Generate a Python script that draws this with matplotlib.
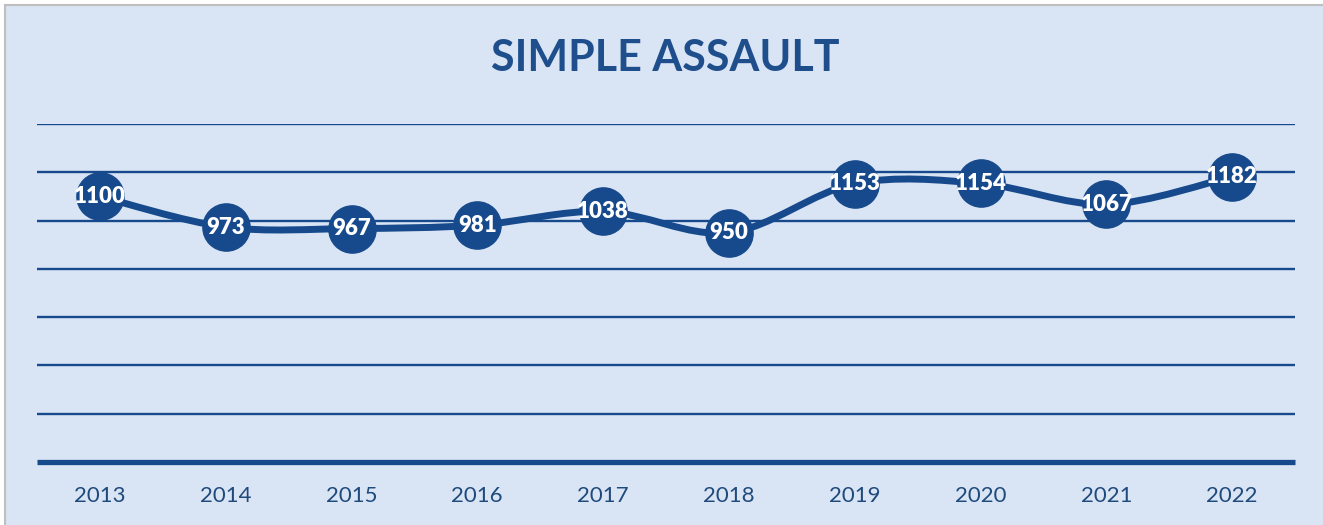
import numpy as np
import matplotlib.pyplot as plt
from matplotlib.path import Path
from matplotlib.patches import PathPatch, Rectangle

years = ["2013", "2014", "2015", "2016", "2017", "2018", "2019", "2020", "2021", "2022"]
counts = [1100, 973, 967, 981, 1038, 950, 1153, 1154, 1067, 1182]

blue = "#174A8C"
bg = "#D9E4F4"
W, H = 1323, 525

plt.rcParams['font.family'] = ['Lato', 'DejaVu Sans']

fig = plt.figure(figsize=(W / 100, H / 100), dpi=100)
fig.patch.set_facecolor("white")
# chart box with grey border
fig.patches.append(Rectangle((5 / W, -0.05), 1.1, (H - 5) / H + 0.05, transform=fig.transFigure,
                             facecolor=bg, edgecolor="#BFBFBF", linewidth=1.5, zorder=-5))

ax = fig.add_axes([37 / W, (H - 462) / H, (1295 - 37) / W, (462 - 124) / H])
ax.set_zorder(2)
ax.set_facecolor("none")
ax.set_xlim(-0.5, len(years) - 0.5)
ax.set_ylim(0, 1400)
for s in ax.spines.values():
    s.set_visible(False)
ax.set_yticks([])
ax.set_xticks(range(len(years)))
ax.set_xticklabels(years, color="#1F4A7C", fontsize=16)
ax.tick_params(axis="x", length=0, pad=17)

for v in range(200, 1401, 200):
    ax.axhline(v, color=blue, lw=1.7, zorder=1)
ax.axhline(0, color=blue, lw=3.8, zorder=1, solid_capstyle="butt", clip_on=False)

# smoothed line (Catmull-Rom style bezier through the points)
x = np.arange(len(counts), dtype=float)
y = np.array(counts, dtype=float)
verts = [(x[0], y[0])]
codes = [Path.MOVETO]
for i in range(len(x) - 1):
    p0 = (x[i - 1], y[i - 1]) if i > 0 else (x[i], y[i])
    p1 = (x[i], y[i])
    p2 = (x[i + 1], y[i + 1])
    p3 = (x[i + 2], y[i + 2]) if i + 2 < len(x) else (x[i + 1], y[i + 1])
    c1 = (p1[0] + (p2[0] - p0[0]) / 6, p1[1] + (p2[1] - p0[1]) / 6)
    c2 = (p2[0] - (p3[0] - p1[0]) / 6, p2[1] - (p3[1] - p1[1]) / 6)
    verts += [c1, c2, p2]
    codes += [Path.CURVE4] * 3
ax.add_patch(PathPatch(Path(verts, codes), facecolor="none", edgecolor=blue, lw=5,
                       capstyle="round", zorder=2))

ax.plot(x, y, "o", ms=34, color=blue, zorder=3)
for xi, yi in zip(x, counts):
    ax.text(xi, yi, str(yi), ha="center", va="center", color="white",
            fontsize=16, fontweight="heavy", zorder=4)

fig.text(0.503, (H - 58) / H, "SIMPLE ASSAULT", ha="center", va="center",
         color="#1F4E8C", fontsize=31, fontweight="bold")

fig.savefig("out.png", dpi=100)
